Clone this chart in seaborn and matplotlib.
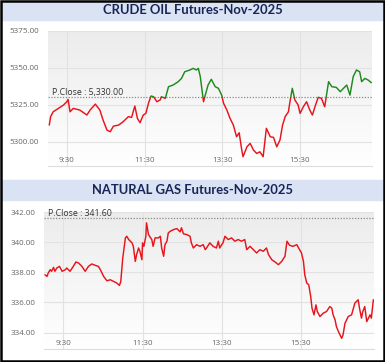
import numpy as np
import pandas as pd
import matplotlib
matplotlib.use("Agg")
import matplotlib.pyplot as plt
from matplotlib.patches import Rectangle
import seaborn as sns

# crude oil: minutes since midnight, price
crude_min = [543, 545, 549, 557, 565, 570, 572, 575, 580, 590, 601, 606, 614, 621, 626, 632,
             637, 642, 650, 657, 665, 670, 675, 679, 683, 688, 692, 696, 700, 704, 709, 714,
             716, 722, 727, 734, 742, 747, 752, 760, 765, 770, 773, 776, 781, 783, 788, 793,
             799, 804, 809, 812, 817, 822, 827, 832, 836, 840, 842, 848, 853, 858, 863, 868,
             873, 878, 884, 889, 894, 899, 903, 907, 912, 914, 918, 922, 927, 930, 935, 940,
             945, 949, 953, 958, 963, 968, 974, 979, 986, 992, 997, 1002, 1007, 1012, 1017,
             1022, 1025, 1030, 1035, 1040]
crude_px = [5311.3, 5317.0, 5320.3, 5322.6, 5324.9, 5327.1, 5328.7, 5320.3, 5322.6, 5321.5,
            5318.1, 5321.5, 5325.5, 5321.5, 5314.7, 5307.9, 5306.8, 5310.6, 5311.3, 5313.6,
            5317.0, 5316.5, 5324.2, 5315.8, 5312.9, 5318.1, 5319.2, 5326.0, 5331.0, 5330.5,
            5327.1, 5328.3, 5330.5, 5329.4, 5337.3, 5338.4, 5340.7, 5342.9, 5347.4, 5348.6,
            5349.7, 5348.6, 5349.7, 5344.1, 5327.1, 5330.5, 5338.4, 5342.3, 5337.3, 5336.2,
            5331.6, 5326.0, 5321.5, 5315.8, 5311.3, 5303.4, 5306.1, 5294.4, 5289.9, 5296.6,
            5298.9, 5294.4, 5292.1, 5293.2, 5289.9, 5309.1, 5303.4, 5303.0, 5296.6, 5301.2,
            5311.3, 5317.0, 5320.3, 5326.0, 5336.2, 5328.3, 5324.9, 5319.2, 5323.7, 5327.1,
            5321.5, 5318.1, 5323.7, 5330.1, 5329.4, 5323.7, 5340.7, 5337.3, 5336.8, 5333.9,
            5336.2, 5338.4, 5331.6, 5344.1, 5348.6, 5347.4, 5340.7, 5342.9, 5341.8, 5340.0]
crude_pclose = 5330.00

# natural gas
gas_min = [542, 545, 547, 550, 552, 555, 557, 560, 564, 568, 573, 575, 580, 585, 589, 593,
           598, 603, 608, 613, 618, 623, 626, 631, 636, 641, 646, 651, 655, 657, 660, 664,
           666, 669, 674, 676, 679, 681, 684, 686, 689, 690, 692, 695, 696, 699, 704, 706,
           709, 714, 717, 719, 722, 724, 727, 729, 732, 737, 742, 747, 749, 752, 757, 762,
           764, 767, 772, 777, 782, 785, 787, 792, 797, 802, 805, 807, 810, 812, 815, 820,
           825, 830, 835, 840, 845, 848, 853, 858, 863, 868, 873, 878, 881, 886, 891, 896,
           901, 906, 909, 913, 918, 924, 926, 931, 934, 936, 939, 942, 945, 947, 950, 953,
           955, 959, 964, 969, 974, 977, 979, 982, 984, 987, 992, 994, 997, 1002, 1007, 1012,
           1017, 1019, 1022, 1024, 1027, 1030, 1035, 1037, 1040]
gas_px = [337.84, 337.73, 337.96, 338.18, 338.07, 338.33, 338.07, 338.29, 338.40, 338.07,
          338.18, 338.29, 338.07, 338.40, 338.69, 338.62, 338.40, 338.07, 338.40, 338.56,
          338.47, 338.40, 338.18, 337.73, 337.44, 337.51, 337.40, 337.29, 337.13, 337.40,
          338.96, 340.29, 340.40, 340.18, 339.96, 339.73, 338.73, 339.18, 339.62, 339.40,
          338.84, 339.96, 339.73, 340.40, 341.29, 340.51, 340.18, 339.73, 340.29, 340.29,
          340.40, 339.62, 339.07, 339.84, 340.07, 340.62, 340.73, 340.84, 340.91, 340.69,
          340.96, 340.56, 340.51, 340.40, 339.96, 339.62, 339.84, 339.73, 339.84, 339.51,
          339.62, 339.96, 339.73, 339.62, 340.07, 339.62, 339.84, 339.96, 340.40, 340.18,
          340.29, 340.07, 340.18, 340.07, 340.18, 339.51, 339.73, 339.51, 339.29, 339.51,
          339.40, 339.62, 339.18, 338.84, 338.69, 338.51, 338.73, 339.07, 340.07, 339.80,
          339.73, 339.84, 339.67, 339.29, 338.73, 337.84, 337.29, 337.18, 336.40, 335.62,
          335.18, 335.84, 335.40, 335.07, 335.29, 335.40, 335.73, 335.62, 335.18, 334.84,
          334.40, 334.07, 333.62, 333.84, 334.62, 335.07, 335.18, 335.96, 336.18, 335.62,
          334.96, 335.40, 335.73, 334.73, 335.18, 334.96, 336.18]
gas_pclose = 341.60

tick_min = [570, 690, 810, 930]
tick_lab = ["9:30", "11:30", "13:30", "15:30"]

crude_yticks = [5300, 5325, 5350, 5375]
gas_yticks = [334, 336, 338, 340, 342]

crude = pd.DataFrame({"t": crude_min, "p": crude_px})
gas = pd.DataFrame({"t": gas_min, "p": gas_px})

RED = "#e8141c"
GREEN = "#1e8a1e"

sns.set_style("white")
plt.rcParams["font.family"] = ["Open Sans", "DejaVu Sans"]

W, H = 385, 362
fig = plt.figure(figsize=(W / 100, H / 100), dpi=100)


def fx(px):
    return px / W


def fy(px):
    return 1 - px / H


def panel(rect, df, pclose, ylim, yticks, pc_label, title, band):
    ax = fig.add_axes(rect)
    grad = np.linspace(0, 1, 256).reshape(-1, 1)
    ax.imshow(grad, extent=[0, 1, 0, 1], transform=ax.transAxes, aspect="auto",
              cmap=matplotlib.colors.LinearSegmentedColormap.from_list("g", ["#ececec", "#ffffff"]),
              zorder=0)
    sns.lineplot(data=df, x="t", y="p", ax=ax, color=RED, lw=1.05, sort=False,
                 estimator=None, zorder=3)
    if any(v > pclose for v in df["p"]):
        sns.lineplot(data=df, x="t", y="p", ax=ax, color=GREEN, lw=1.05, sort=False,
                     estimator=None, zorder=4)
        top = Rectangle((0, pclose), 2000, 1e5, transform=ax.transData)
        bot = Rectangle((0, pclose - 1e5), 2000, 1e5, transform=ax.transData)
        ax.lines[0].set_clip_path(bot)
        ax.lines[1].set_clip_path(top)
    ax.axhline(pclose, color="#8a8a8a", lw=0.9, ls=(0, (1, 1.3)), zorder=2)
    ax.text(547, pclose, pc_label, fontsize=6.3, color="#333333", va="bottom",
            ha="left", zorder=5)
    ax.set_xlim(541, 1041)
    ax.set_ylim(*ylim)
    ax.set_yticks(yticks)
    ax.set_yticklabels([f"{v:.2f}" for v in yticks])
    ax.set_xticks(tick_min)
    ax.set_xticklabels(tick_lab)
    ax.grid(True, color="#e2e2e2", lw=0.8, zorder=1)
    ax.set_axisbelow(True)
    for s in ["top", "left", "right"]:
        ax.spines[s].set_visible(False)
    ax.spines["bottom"].set_color("#dddddd")
    ax.tick_params(axis="both", length=0, labelsize=5.8, labelcolor="#666666")
    ax.tick_params(axis="x", pad=-6.2)
    ax.tick_params(axis="y", pad=6.5)
    ax.set_xlabel("")
    ax.set_ylabel("")
    b0, b1 = band
    fig.patches.append(Rectangle((fx(2), fy(b1)), fx(381), (b1 - b0) / H,
                                 transform=fig.transFigure, color="#dae3f3", zorder=0))
    fig.text(0.5, fy((b0 + b1) / 2), title, ha="center", va="center",
             fontsize=9.4, fontweight="bold", color="#172557", family="Lato")
    return ax


panel([fx(48), fy(165.7), fx(324), (165.7 - 31) / H], crude, crude_pclose,
      (5283.8, 5375), crude_yticks, "P.Close : 5,330.00",
      "CRUDE OIL Futures-Nov-2025", (1, 20))
panel([fx(44.3), fy(349), fx(329.7), (349 - 211.7) / H], gas, gas_pclose,
      (332.91, 342.03), gas_yticks, "P.Close : 341.60",
      "NATURAL GAS Futures-Nov-2025", (180, 200))

fig.patches.append(Rectangle((0.003, 0.003), 0.994, 0.994, transform=fig.transFigure,
                             fill=False, edgecolor="black", lw=1.8, zorder=10))

fig.savefig("out.png", dpi=100)
